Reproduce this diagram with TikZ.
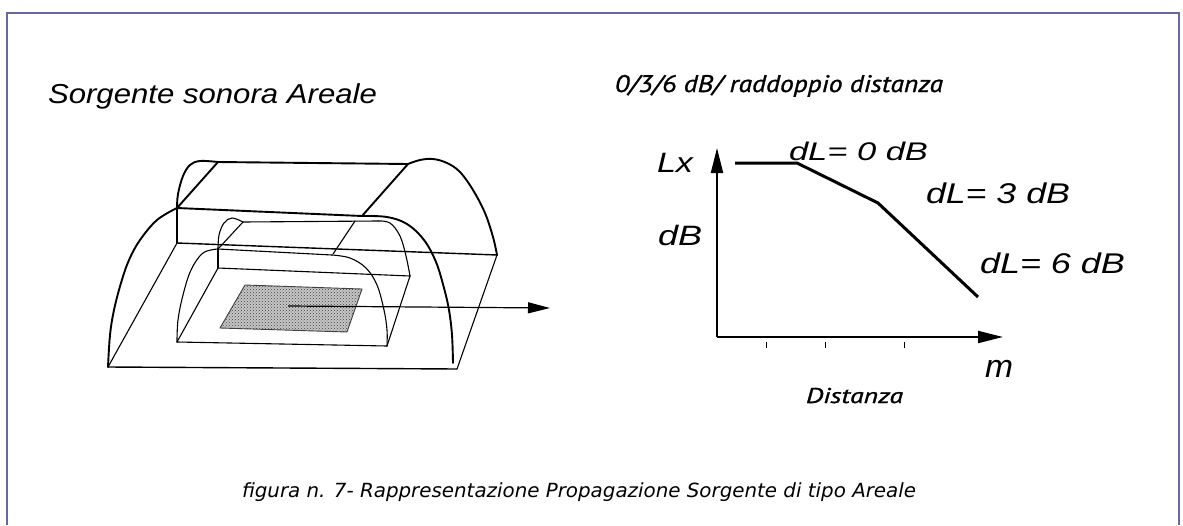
\documentclass[tikz,border=0pt]{standalone}
\usepackage{fontspec}
\usetikzlibrary{arrows.meta,patterns}
\newfontfamily\arialf{Liberation Sans}
\newfontfamily\gillf[FakeBold=1.0]{PT Sans}
\newfontfamily\tahf{DejaVu Sans}
% fit text to a width, keeping the natural height of the given font size
\newcommand{\rswide}[3]{\resizebox{#1pt}{\height}{\fontsize{#2pt}{#2pt}\selectfont #3}}
\definecolor{framecol}{RGB}{104,104,160}
\tikzset{
  txt/.style={inner sep=0pt, outer sep=0pt, anchor=base west},
  heavy/.style={line width=1.9pt, line join=round, line cap=round},
  med/.style={line width=1.4pt, line join=round, line cap=round},
  light/.style={line width=1.1pt, line join=round, line cap=round},
  axis/.style={line width=2pt, -{Triangle[length=25pt,width=12pt]}},
  curveline/.style={line width=3pt, line join=round},
  tick/.style={line width=1pt},
}
\begin{document}
\begin{tikzpicture}[x=1pt,y=-1pt]
\useasboundingbox (0,0) rectangle (1183,525);
\fill[white] (0,0) rectangle (1183,525);
% frame
\draw[framecol, line width=2.4pt] (7,525) -- (7,13) -- (1179,13) -- (1179,525);

% ---------- left drawing ----------
\node[txt] (ltitle) at (48,103) {\rswide{329}{27.4}{\arialf\itshape Sorgente sonora Areale}};

% shaded source area
\coordinate (s1) at (245,285); \coordinate (s2) at (362,289);
\coordinate (s3) at (347,332); \coordinate (s4) at (220,328);
\fill[black!22] (s1) -- (s2) -- (s3) -- (s4) -- cycle;
\fill[pattern=crosshatch dots, pattern color=black!75] (s1) -- (s2) -- (s3) -- (s4) -- cycle;
\draw[black!75, line width=0.9pt, line join=round] (s1) -- (s2) -- (s3) -- (s4) -- cycle;

% outer vault
\coordinate (oJ) at (177,208);   % front-left top junction
\coordinate (oT) at (218,162);   % back-left top
\coordinate (oR) at (408,164);   % back-right top
\coordinate (oF) at (362,216);   % front-right top
\coordinate (oBL) at (177,243);  % back-left base
\coordinate (oBR) at (497,255);  % back-right base
\coordinate (oFL) at (108,367);  % front-left base
\coordinate (oFR) at (457,369);  % front-right base
\draw[heavy] plot[smooth, tension=0.6] coordinates {(177,208) (178,194) (183,176) (190,165) (200,161) (218,162)};
\draw[heavy] (oT) -- (oJ);
\draw[heavy] (oT) -- (oR);
\draw[heavy] plot[smooth, tension=0.6] coordinates {(408,164) (420,160) (433,159) (447,163) (460,172) (473,190) (485,213) (493,237) (497,255)};
\draw[heavy] (oR) -- (oF);
\draw[heavy] (oJ) -- (oF);
\draw[heavy] plot[smooth, tension=0.6] coordinates {(362,216) (387,217) (407,224) (424,240) (436,262) (444,288) (449,310) (452,335) (453,363)};
\draw[heavy] plot[smooth, tension=0.6] coordinates {(177,208) (157,220) (140,240) (129,260) (121,283) (114,310) (110,335) (108,367)};
\draw[med] (oJ) -- (oBL);
\draw[med] (oBL) -- (oBR);
\draw[light] (oBL) -- (oFL);
\draw[med] (oFL) -- (oFR);
\draw[light] (oFR) -- (oBR);

% inner vault
\coordinate (iJ) at (218,249);
\coordinate (iT) at (243,222);
\coordinate (iR) at (378,221);
\coordinate (iF) at (332,255);
\coordinate (iBL) at (218,268);
\coordinate (iBR) at (410,276);
\coordinate (iFL) at (177,342);
\coordinate (iFR) at (387,346);
\coordinate (iD1) at (355,221);
\coordinate (iD2) at (333,254);
\draw[light] plot[smooth, tension=0.6] coordinates {(218,249) (219,235) (224,223) (232,218) (243,222)};
\draw[light] (iT) -- (iJ);
\draw[light] (iT) -- (iR);
\draw[light] plot[smooth, tension=0.6] coordinates {(378,221) (390,223) (400,236) (406,256) (410,276)};
\draw[light] (iD1) -- (iD2);
\draw[light] (iJ) -- (iF);
\draw[light] plot[smooth, tension=0.6] coordinates {(332,255) (350,258) (366,268) (377,285) (384,310) (387,330) (387,346)};
\draw[light] plot[smooth, tension=0.6] coordinates {(218,249) (203,253) (191,270) (183,295) (178,320) (177,342)};
\draw[light] (iJ) -- (iBL);
\draw[light] (iBL) -- (iBR);
\draw[light] (iBL) -- (iFL);
\draw[light] (iFL) -- (iFR);
\draw[light] (iFR) -- (iBR);

% propagation arrow
\coordinate (a0) at (288,306);
\coordinate (a1) at (550,308);
\draw[line width=1.2pt, -{Triangle[length=22pt,width=11pt]}] (a0) -- (a1);

% ---------- right graph ----------
\node[txt] (rtitle) at (615,92) {\rswide{328}{24}{\gillf\itshape 0/3/6 dB/ raddoppio distanza}};
\coordinate (O) at (717,337);
\coordinate (ytip) at (717,148);
\coordinate (xtip) at (1003,337);
\draw[axis] (O) -- (ytip);
\draw[axis] (O) -- (xtip);
\foreach \tx in {766,825,904} { \draw[tick] (\tx,342) -- (\tx,348); }
\coordinate (c0) at (735,163);
\coordinate (c1) at (797,163);
\coordinate (c2) at (878,203);
\coordinate (c3) at (978,297);
\draw[curveline] (c0) -- (c1) -- (c2) -- (c3);

\node[txt] (lx) at (657,172) {\rswide{36}{28}{\arialf\itshape Lx}};
\node[txt] (ldb) at (658,245) {\rswide{44}{28}{\arialf\itshape dB}};
\node[txt] (dl0) at (789,160) {\rswide{139}{25.5}{\arialf\itshape dL= 0 dB}};
\node[txt] (dl3) at (926,203) {\rswide{144}{28.5}{\arialf\itshape dL= 3 dB}};
\node[txt] (dl6) at (980,273) {\rswide{145}{28.5}{\arialf\itshape dL= 6 dB}};
\node[txt] (lm) at (985,377) {\rswide{28}{32}{\arialf\itshape m}};
\node[txt] (dist) at (806,403) {\rswide{97}{21.4}{\gillf\itshape Distanza}};

% caption
\node[txt] (cap) at (242,497) {\rswide{674}{19.5}{\tahf\itshape figura n. 7- Rappresentazione Propagazione Sorgente di tipo Areale}};
\end{tikzpicture}
\end{document}
